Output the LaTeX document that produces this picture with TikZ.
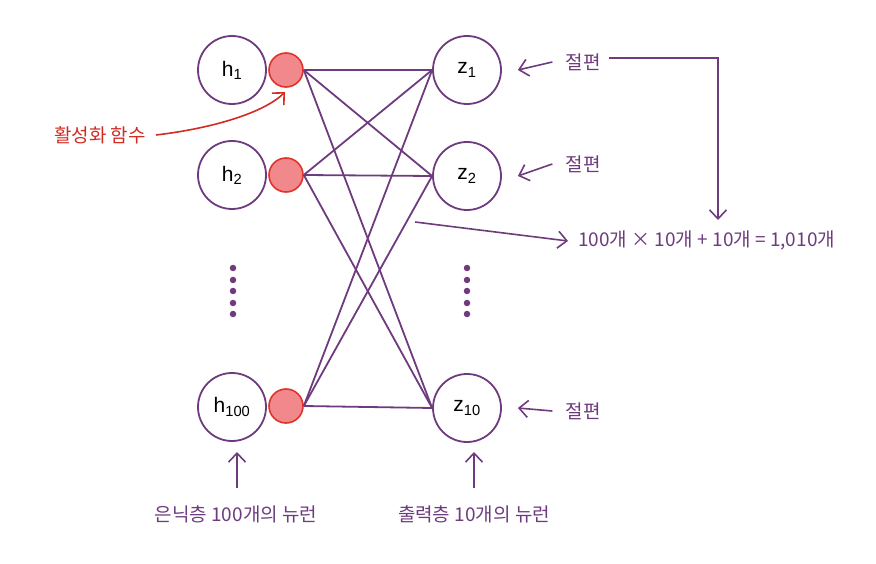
\documentclass[tikz,border=0pt]{standalone}
\usepackage{fontspec}
\setmainfont{Liberation Sans}
\newfontfamily\kr{Noto Sans CJK KR}
\usetikzlibrary{arrows.meta}
\definecolor{pur}{HTML}{6E3B7E}
\definecolor{redline}{HTML}{E0332B}
\definecolor{redfill}{HTML}{F1888C}
\definecolor{redtext}{HTML}{D12B22}
\begin{document}
\begin{tikzpicture}[x=1pt,y=-1pt,
 >={Straight Barb[length=9pt,width=17pt]},
 neuron/.style={circle,draw=pur,line width=1.8pt,minimum size=68pt,inner sep=0pt,font=\fontsize{21}{22}\selectfont},
 act/.style={circle,draw=redline,fill=redfill,line width=1.6pt,minimum size=34pt,inner sep=0pt},
 conn/.style={draw=pur,line width=1.8pt},
 dot/.style={circle,fill=pur,minimum size=6.5pt,inner sep=0pt},
 lbl/.style={text=pur,font=\kr\fontsize{19}{20}\selectfont,inner sep=0pt},
 arr/.style={draw=pur,line width=1.6pt,->}]
\useasboundingbox (0,0) rectangle (876,564);
% hidden layer
\node[neuron] (h1) at (232,70) {h\textsubscript{1}};
\node[neuron] (h2) at (232,175) {h\textsubscript{2}};
\node[neuron] (h100) at (232,407) {h\textsubscript{100}};
\node[act] (a1) at (286,70) {};
\node[act] (a2) at (286,175) {};
\node[act] (a100) at (286,406) {};
% output layer
\node[neuron] (z1) at (467,70) {z\textsubscript{1}};
\node[neuron] (z2) at (467,176) {z\textsubscript{2}};
\node[neuron] (z10) at (467,408) {z\textsubscript{10}};
% dots
\foreach \y [count=\i] in {268,280,291,303,314}{
  \node[dot] (ld\i) at (233,\y) {};
  \node[dot] (rd\i) at (467,\y) {};
}
% connections
\foreach \s in {a1,a2,a100}{
  \foreach \t in {z1,z2,z10}{
    \draw[conn] (\s.east) -- (\t.west);
  }
}
% activation label
\node[text=redtext,font=\kr\fontsize{19}{20}\selectfont,inner sep=0pt] (act) at (100,135) {활성화 함수};
\coordinate (actend) at (285,92);
\draw[draw=redtext,line width=1.6pt,->]
  ([xshift=10pt]act.east) .. controls (215,128) and (265,112) .. (actend);
% biases
\node[lbl] (b1) at (583,62) {절편};
\node[lbl] (b2) at (583,164) {절편};
\node[lbl] (b10) at (583,411) {절편};
\draw[arr] ([xshift=-13pt]b1.west) -- ([xshift=16pt]z1.east);
\draw[arr] ([xshift=-13pt]b2.west) -- ([xshift=16pt]z2.east);
\draw[arr] ([xshift=-13pt]b10.west) -- ([xshift=16pt]z10.east);
% total
\node[lbl,anchor=west] (tot) at (578,240) {100개 × 10개 + 10개 = 1,010개};
\coordinate (corner) at (718,58);
\coordinate (ctip) at (718,220);
\draw[arr] ([xshift=8pt,yshift=4pt]b1.east) -- (corner) -- (ctip);
\coordinate (wsrc) at (415,222);
\draw[arr] (wsrc) -- ([xshift=-10pt,yshift=-1pt]tot.west);
% bottom labels
\node[lbl] (hl) at (236,514) {은닉층 100개의 뉴런};
\node[lbl] (zl) at (474,514) {출력층 10개의 뉴런};
\coordinate (htip) at (237,452);
\coordinate (hbase) at (237,488);
\coordinate (ztip) at (474,452);
\coordinate (zbase) at (474,488);
\draw[arr] (hbase) -- (htip);
\draw[arr] (zbase) -- (ztip);
\end{tikzpicture}
\end{document}
